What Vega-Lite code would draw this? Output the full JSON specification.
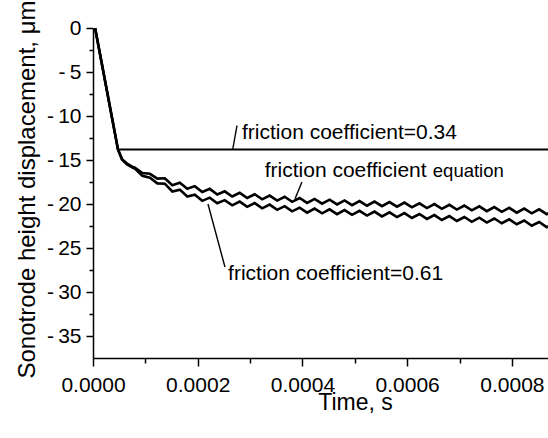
{
  "$schema": "https://vega.github.io/schema/vega-lite/v6.json",
  "width": 455,
  "height": 330,
  "autosize": {"type": "none"},
  "padding": {"left": 93, "top": 28, "right": 0, "bottom": 80},
  "config": {
    "view": {"stroke": null},
    "font": "Liberation Sans",
    "axis": {
      "grid": false,
      "domainColor": "#000000",
      "domainWidth": 1.5,
      "tickColor": "#000000",
      "tickWidth": 1.5,
      "labelColor": "#000000",
      "titleColor": "#000000",
      "labelFont": "Liberation Sans",
      "titleFont": "Liberation Sans",
      "titleFontWeight": "normal"
    }
  },
  "datasets": {
    "curves": [
      {"series": "mu034", "t": 0.000004, "v": 0},
      {"series": "mu034", "t": 0.0000477, "v": -13.8},
      {"series": "mu034", "t": 0.00088, "v": -13.8},

      {"series": "eq", "t": 0.000004, "v": 0},
      {"series": "eq", "t": 0.0000477, "v": -13.8},
      {"series": "eq", "t": 0.0000554, "v": -14.9},
      {"series": "eq", "t": 0.000065, "v": -15.4},
      {"series": "eq", "t": 0.0000764, "v": -15.8},
      {"series": "eq", "t": 0.00008, "v": -15.88},
      {"series": "eq", "t": 0.0000943, "v": -16.48},
      {"series": "eq", "t": 0.0001086, "v": -16.57},
      {"series": "eq", "t": 0.0001229, "v": -17.12},
      {"series": "eq", "t": 0.0001372, "v": -17.07},
      {"series": "eq", "t": 0.0001515, "v": -17.87},
      {"series": "eq", "t": 0.0001658, "v": -17.59},
      {"series": "eq", "t": 0.0001801, "v": -18.27},
      {"series": "eq", "t": 0.0001944, "v": -17.97},
      {"series": "eq", "t": 0.0002087, "v": -18.64},
      {"series": "eq", "t": 0.000223, "v": -18.28},
      {"series": "eq", "t": 0.0002373, "v": -18.92},
      {"series": "eq", "t": 0.0002516, "v": -18.56},
      {"series": "eq", "t": 0.0002659, "v": -19.15},
      {"series": "eq", "t": 0.0002802, "v": -18.73},
      {"series": "eq", "t": 0.0002945, "v": -19.32},
      {"series": "eq", "t": 0.0003088, "v": -18.89},
      {"series": "eq", "t": 0.0003231, "v": -19.47},
      {"series": "eq", "t": 0.0003374, "v": -19.04},
      {"series": "eq", "t": 0.0003517, "v": -19.61},
      {"series": "eq", "t": 0.000366, "v": -19.18},
      {"series": "eq", "t": 0.0003803, "v": -19.75},
      {"series": "eq", "t": 0.0003946, "v": -19.32},
      {"series": "eq", "t": 0.0004089, "v": -19.88},
      {"series": "eq", "t": 0.0004232, "v": -19.42},
      {"series": "eq", "t": 0.0004375, "v": -19.96},
      {"series": "eq", "t": 0.0004518, "v": -19.51},
      {"series": "eq", "t": 0.0004661, "v": -20.05},
      {"series": "eq", "t": 0.0004804, "v": -19.59},
      {"series": "eq", "t": 0.0004947, "v": -20.13},
      {"series": "eq", "t": 0.000509, "v": -19.67},
      {"series": "eq", "t": 0.0005233, "v": -20.2},
      {"series": "eq", "t": 0.0005376, "v": -19.73},
      {"series": "eq", "t": 0.0005519, "v": -20.25},
      {"series": "eq", "t": 0.0005662, "v": -19.78},
      {"series": "eq", "t": 0.0005805, "v": -20.31},
      {"series": "eq", "t": 0.0005948, "v": -19.84},
      {"series": "eq", "t": 0.0006091, "v": -20.38},
      {"series": "eq", "t": 0.0006234, "v": -19.92},
      {"series": "eq", "t": 0.0006377, "v": -20.46},
      {"series": "eq", "t": 0.000652, "v": -20.01},
      {"series": "eq", "t": 0.0006663, "v": -20.55},
      {"series": "eq", "t": 0.0006806, "v": -20.09},
      {"series": "eq", "t": 0.0006949, "v": -20.63},
      {"series": "eq", "t": 0.0007092, "v": -20.18},
      {"series": "eq", "t": 0.0007235, "v": -20.72},
      {"series": "eq", "t": 0.0007378, "v": -20.26},
      {"series": "eq", "t": 0.0007521, "v": -20.81},
      {"series": "eq", "t": 0.0007664, "v": -20.35},
      {"series": "eq", "t": 0.0007807, "v": -20.89},
      {"series": "eq", "t": 0.000795, "v": -20.44},
      {"series": "eq", "t": 0.0008093, "v": -20.98},
      {"series": "eq", "t": 0.0008236, "v": -20.52},
      {"series": "eq", "t": 0.0008379, "v": -21.06},
      {"series": "eq", "t": 0.0008522, "v": -20.61},
      {"series": "eq", "t": 0.0008665, "v": -21.15},
      {"series": "eq", "t": 0.0008808, "v": -20.69},

      {"series": "mu061", "t": 0.000004, "v": 0},
      {"series": "mu061", "t": 0.0000477, "v": -13.8},
      {"series": "mu061", "t": 0.0000554, "v": -14.95},
      {"series": "mu061", "t": 0.000065, "v": -15.5},
      {"series": "mu061", "t": 0.0000764, "v": -15.9},
      {"series": "mu061", "t": 0.00008, "v": -15.98},
      {"series": "mu061", "t": 0.0000943, "v": -16.79},
      {"series": "mu061", "t": 0.0001086, "v": -17.02},
      {"series": "mu061", "t": 0.0001229, "v": -17.66},
      {"series": "mu061", "t": 0.0001372, "v": -17.69},
      {"series": "mu061", "t": 0.0001515, "v": -18.58},
      {"series": "mu061", "t": 0.0001658, "v": -18.37},
      {"series": "mu061", "t": 0.0001801, "v": -19.15},
      {"series": "mu061", "t": 0.0001944, "v": -18.94},
      {"series": "mu061", "t": 0.0002087, "v": -19.64},
      {"series": "mu061", "t": 0.000223, "v": -19.28},
      {"series": "mu061", "t": 0.0002373, "v": -19.92},
      {"series": "mu061", "t": 0.0002516, "v": -19.56},
      {"series": "mu061", "t": 0.0002659, "v": -20.15},
      {"series": "mu061", "t": 0.0002802, "v": -19.73},
      {"series": "mu061", "t": 0.0002945, "v": -20.32},
      {"series": "mu061", "t": 0.0003088, "v": -19.9},
      {"series": "mu061", "t": 0.0003231, "v": -20.49},
      {"series": "mu061", "t": 0.0003374, "v": -20.07},
      {"series": "mu061", "t": 0.0003517, "v": -20.66},
      {"series": "mu061", "t": 0.000366, "v": -20.25},
      {"series": "mu061", "t": 0.0003803, "v": -20.83},
      {"series": "mu061", "t": 0.0003946, "v": -20.42},
      {"series": "mu061", "t": 0.0004089, "v": -20.98},
      {"series": "mu061", "t": 0.0004232, "v": -20.52},
      {"series": "mu061", "t": 0.0004375, "v": -21.06},
      {"series": "mu061", "t": 0.0004518, "v": -20.61},
      {"series": "mu061", "t": 0.0004661, "v": -21.15},
      {"series": "mu061", "t": 0.0004804, "v": -20.69},
      {"series": "mu061", "t": 0.0004947, "v": -21.23},
      {"series": "mu061", "t": 0.000509, "v": -20.78},
      {"series": "mu061", "t": 0.0005233, "v": -21.32},
      {"series": "mu061", "t": 0.0005376, "v": -20.86},
      {"series": "mu061", "t": 0.0005519, "v": -21.41},
      {"series": "mu061", "t": 0.0005662, "v": -20.95},
      {"series": "mu061", "t": 0.0005805, "v": -21.49},
      {"series": "mu061", "t": 0.0005948, "v": -21.03},
      {"series": "mu061", "t": 0.0006091, "v": -21.59},
      {"series": "mu061", "t": 0.0006234, "v": -21.14},
      {"series": "mu061", "t": 0.0006377, "v": -21.7},
      {"series": "mu061", "t": 0.000652, "v": -21.26},
      {"series": "mu061", "t": 0.0006663, "v": -21.82},
      {"series": "mu061", "t": 0.0006806, "v": -21.37},
      {"series": "mu061", "t": 0.0006949, "v": -21.93},
      {"series": "mu061", "t": 0.0007092, "v": -21.48},
      {"series": "mu061", "t": 0.0007235, "v": -22.02},
      {"series": "mu061", "t": 0.0007378, "v": -21.56},
      {"series": "mu061", "t": 0.0007521, "v": -22.11},
      {"series": "mu061", "t": 0.0007664, "v": -21.65},
      {"series": "mu061", "t": 0.0007807, "v": -22.19},
      {"series": "mu061", "t": 0.000795, "v": -21.74},
      {"series": "mu061", "t": 0.0008093, "v": -22.3},
      {"series": "mu061", "t": 0.0008236, "v": -21.88},
      {"series": "mu061", "t": 0.0008379, "v": -22.47},
      {"series": "mu061", "t": 0.0008522, "v": -22.05},
      {"series": "mu061", "t": 0.0008665, "v": -22.63},
      {"series": "mu061", "t": 0.0008808, "v": -22.21}
    ],
    "labels": [
      {"text": "friction coefficient=0.34", "t": 0.0002845, "v": -12.6, "size": 21},
      {"text": "friction coefficient", "t": 0.000328, "v": -16.9, "size": 21},
      {"text": "equation", "t": 0.000649, "v": -16.9, "size": 18.5},
      {"text": "friction coefficient=0.61", "t": 0.000258, "v": -28.6, "size": 21}
    ],
    "leaders": [
      {"t": 0.000275, "v": -11.1, "t2": 0.000267, "v2": -13.75},
      {"t": 0.000399, "v": -17.5, "t2": 0.000386, "v2": -19.4},
      {"t": 0.0002196, "v": -20.0, "t2": 0.000252, "v2": -27.16}
    ]
  },
  "layer": [
    {
      "data": {"name": "curves"},
      "transform": [{"filter": "datum.series != 'mu034'"}],
      "mark": {"type": "line", "color": "#000000", "strokeWidth": 2.6, "clip": true},
      "encoding": {
        "x": {
          "field": "t", "type": "quantitative",
          "scale": {"domain": [0, 0.000869], "nice": false, "zero": false},
          "axis": {
            "values": [0, 0.0002, 0.0004, 0.0006, 0.0008],
            "format": ".4f",
            "labelFontSize": 21,
            "tickSize": 8,
            "labelPadding": 8,
            "labelFlush": false,
            "title": "Time, s",
            "titleFontSize": 23,
            "titleX": 262,
            "titleY": 51,
            "titleAlign": "center",
            "titleBaseline": "alphabetic"
          }
        },
        "y": {
          "field": "v", "type": "quantitative",
          "scale": {"domain": [-37.5, 0], "nice": false, "zero": false},
          "axis": {
            "values": [0, -5, -10, -15, -20, -25, -30, -35],
            "labelExpr": "datum.value == 0 ? '0' : '-\u2009' + format(abs(datum.value), 'd')",
            "labelFontSize": 21,
            "tickSize": 7,
            "labelPadding": 5,
            "labelFlush": false,
            "title": "Sonotrode height displacement, μm",
            "titleFontSize": 24,
            "titleAngle": -90,
            "titleX": -59,
            "titleY": 161,
            "titleAlign": "center",
            "titleBaseline": "alphabetic"
          }
        },
        "detail": {"field": "series"}
      }
    },
    {
      "data": {"name": "curves"},
      "transform": [{"filter": "datum.series == 'mu034'"}],
      "mark": {"type": "line", "color": "#000000", "strokeWidth": 2, "clip": true},
      "encoding": {
        "x": {
          "field": "t", "type": "quantitative",
          "axis": {
            "orient": "bottom",
            "values": [0.0001, 0.0003, 0.0005, 0.0007],
            "labels": false,
            "domain": false,
            "tickSize": 5,
            "title": null
          }
        },
        "y": {
          "field": "v", "type": "quantitative",
          "axis": {
            "orient": "left",
            "values": [-2.5, -7.5, -12.5, -17.5, -22.5, -27.5, -32.5],
            "labels": false,
            "domain": false,
            "tickSize": 4,
            "title": null
          }
        }
      }
    },
    {
      "data": {"name": "leaders"},
      "mark": {"type": "rule", "color": "#000000", "strokeWidth": 1.4},
      "encoding": {
        "x": {"field": "t", "type": "quantitative", "axis": null},
        "y": {"field": "v", "type": "quantitative", "axis": null},
        "x2": {"field": "t2"},
        "y2": {"field": "v2"}
      }
    },
    {
      "data": {"name": "labels"},
      "mark": {"type": "text", "align": "left", "baseline": "alphabetic", "color": "#000000", "font": "Liberation Sans"},
      "encoding": {
        "x": {"field": "t", "type": "quantitative", "axis": null},
        "y": {"field": "v", "type": "quantitative", "axis": null},
        "text": {"field": "text"},
        "size": {"field": "size", "type": "quantitative", "scale": null}
      }
    }
  ],
  "resolve": {"axis": {"x": "independent", "y": "independent"}}
}
